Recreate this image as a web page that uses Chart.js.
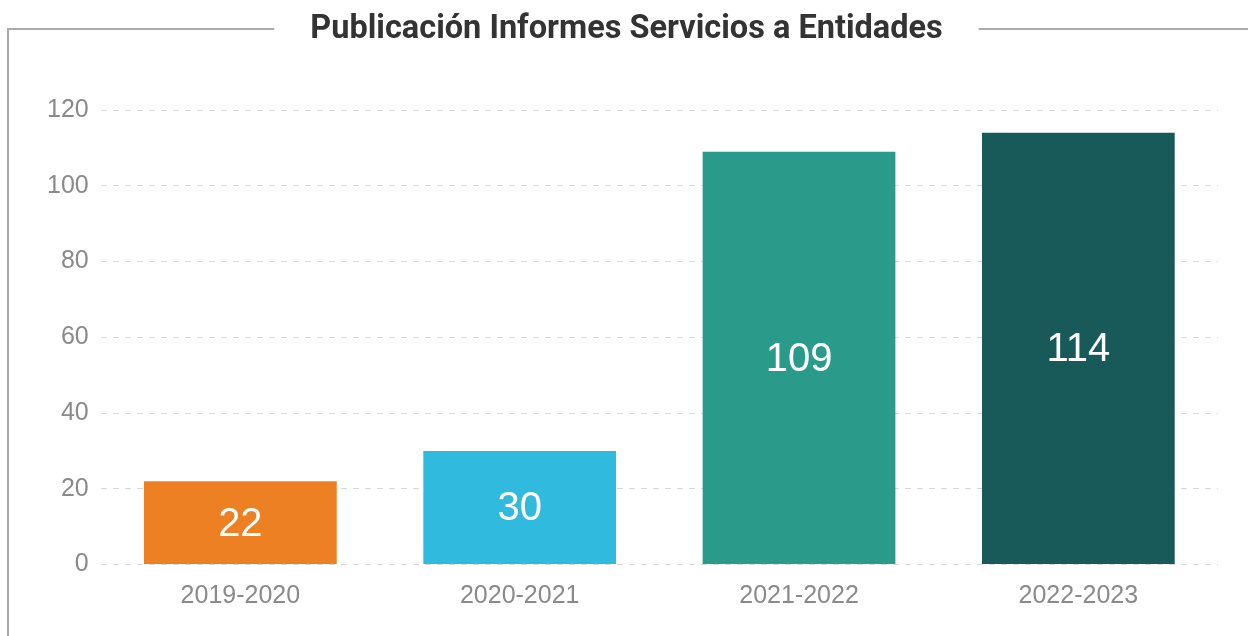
<!DOCTYPE html>
<html>
<head>
<meta charset="utf-8">
<title>Publicación Informes Servicios a Entidades</title>
<script src="https://cdn.jsdelivr.net/npm/chart.js@4.4.0/dist/chart.umd.min.js"></script>
<style>
    html, body { margin: 0; padding: 0; background: #ffffff; }
    #wrap { width: 1248px; height: 636px; }
</style>
</head>
<body>
<div id="wrap"><canvas id="chart" width="1248" height="636"></canvas></div>
<script>
// Chart data
const titleText = 'Publicación Informes Servicios a Entidades';
const categories = ['2019-2020', '2020-2021', '2021-2022', '2022-2023'];
const values = [22, 30, 109, 114];
const barColors = ['#ec8022', '#2fbade', '#2a9a8a', '#175a59'];
const yTicks = [0, 20, 40, 60, 80, 100, 120];

const TITLE_FAMILY = "'Roboto', 'Liberation Sans', sans-serif";
const TITLE_SIZE = 32.5;
const TEXT_FONT = "'Liberation Sans', 'Arial', sans-serif";

// Grey frame with a gap round the title
const framePlugin = {
    id: 'frame',
    beforeDraw(chart) {
        const ctx = chart.ctx;
        const tb = chart.titleBlock;
        ctx.save();
        ctx.font = 'bold ' + TITLE_SIZE + 'px ' + TITLE_FAMILY;
        const w = ctx.measureText(titleText).width;
        const cx = (tb.left + tb.right) / 2;
        const y = 29;
        ctx.strokeStyle = '#aaaaaa';
        ctx.lineWidth = 2;
        ctx.beginPath();
        ctx.moveTo(8, chart.height);
        ctx.lineTo(8, y);
        ctx.lineTo(cx - w / 2 - 36, y);
        ctx.moveTo(cx + w / 2 + 36, y);
        ctx.lineTo(chart.width, y);
        ctx.stroke();
        ctx.restore();
    }
};

// White value labels centred in each bar
const barLabels = {
    id: 'barLabels',
    afterDatasetsDraw(chart) {
        const ctx = chart.ctx;
        const meta = chart.getDatasetMeta(0);
        ctx.save();
        ctx.fillStyle = '#ffffff';
        ctx.font = '40px ' + TEXT_FONT;
        ctx.textAlign = 'center';
        ctx.textBaseline = 'middle';
        meta.data.forEach((bar, i) => {
            const { x, y, base } = bar.getProps(['x', 'y', 'base'], true);
            ctx.fillText(String(values[i]), x, (y + base) / 2 + 2);
        });
        ctx.restore();
    }
};

new Chart(document.getElementById('chart'), {
    type: 'bar',
    data: {
        labels: categories,
        datasets: [{
            data: values,
            backgroundColor: barColors,
            borderWidth: 0,
            categoryPercentage: 1,
            barPercentage: 0.69
        }]
    },
    options: {
        responsive: false,
        animation: false,
        layout: { padding: { left: 35, right: 30, top: 0, bottom: 15.5 } },
        plugins: {
            legend: { display: false },
            tooltip: { enabled: false },
            title: {
                display: true,
                text: titleText,
                color: '#333333',
                font: { family: TITLE_FAMILY, size: TITLE_SIZE, weight: 'bold', lineHeight: 1.2 },
                padding: { top: 10, bottom: 61 }
            }
        },
        scales: {
            x: {
                grid: { display: false },
                border: { display: false },
                ticks: {
                    color: '#8a8a8a',
                    padding: 9,
                    font: { family: TEXT_FONT, size: 25 }
                }
            },
            y: {
                min: 0,
                max: 120,
                afterBuildTicks(scale) {
                    scale.ticks = yTicks.map(v => ({ value: v }));
                },
                grid: { color: '#d9d9d9', lineWidth: 1, drawTicks: false },
                border: { display: false, dash: [6, 6] },
                ticks: {
                    color: '#8a8a8a',
                    padding: 12,
                    font: { family: TEXT_FONT, size: 25 }
                }
            }
        }
    },
    plugins: [framePlugin, barLabels]
});
</script>
</body>
</html>
